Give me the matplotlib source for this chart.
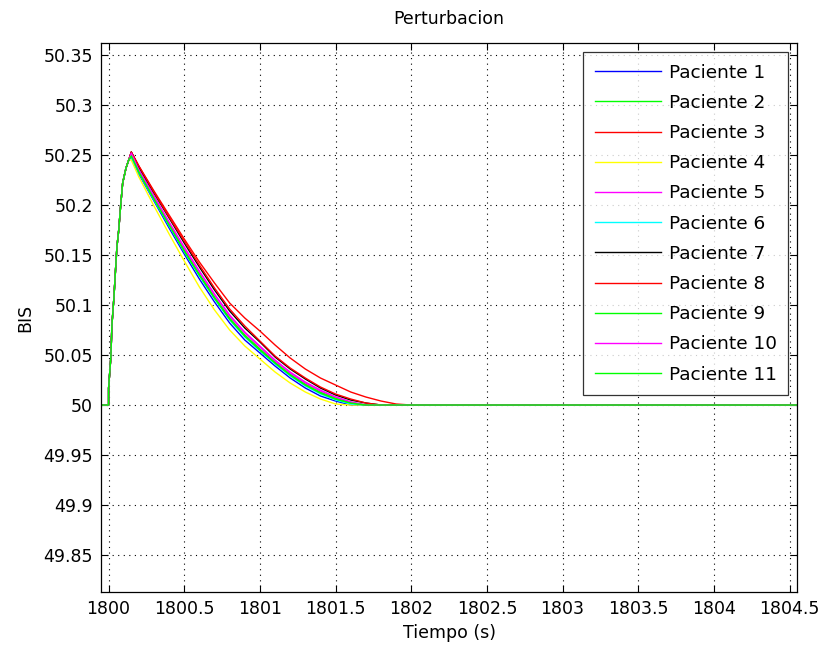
import numpy as np
import matplotlib
matplotlib.use('Agg')
import matplotlib.pyplot as plt
from matplotlib.ticker import FuncFormatter

plt.rcParams['font.family'] = ['DejaVu Sans']

# tramo de subida (comun a todos los pacientes)
t_rise = [1799.9, 1800.0, 1800.0, 1800.015, 1800.022, 1800.035, 1800.045, 1800.055,
          1800.067, 1800.08, 1800.093, 1800.115, 1800.133]
bis_rise = [50.0, 50.0, 50.017, 50.048, 50.08, 50.107, 50.133, 50.158,
            50.175, 50.2, 50.222, 50.237, 50.245]

# tramo de bajada
t_decay = [1800.15, 1800.2, 1800.3, 1800.4, 1800.5, 1800.6, 1800.7, 1800.8, 1800.9,
           1801.0, 1801.1, 1801.2, 1801.3, 1801.4, 1801.5, 1801.6, 1801.7, 1801.8,
           1801.9, 1802.0, 1804.7]

p1 = [50.248, 50.231, 50.204, 50.177, 50.151, 50.126, 50.103, 50.082, 50.065, 50.052,
      50.039, 50.027, 50.017, 50.009, 50.004, 50.0, 50.0, 50.0, 50.0, 50.0, 50.0]
p2 = [50.250, 50.234, 50.207, 50.181, 50.155, 50.131, 50.108, 50.087, 50.070, 50.056,
      50.043, 50.031, 50.021, 50.013, 50.007, 50.002, 50.0, 50.0, 50.0, 50.0, 50.0]
p3 = [50.253, 50.239, 50.214, 50.190, 50.166, 50.143, 50.122, 50.102, 50.087, 50.074,
      50.060, 50.047, 50.036, 50.027, 50.020, 50.013, 50.008, 50.004, 50.001, 50.0, 50.0]
p4 = [50.245, 50.228, 50.199, 50.171, 50.144, 50.118, 50.095, 50.075, 50.059, 50.046,
      50.033, 50.022, 50.013, 50.006, 50.001, 50.0, 50.0, 50.0, 50.0, 50.0, 50.0]
p5 = [50.252, 50.236, 50.209, 50.183, 50.158, 50.134, 50.111, 50.090, 50.073, 50.059,
      50.045, 50.033, 50.023, 50.015, 50.008, 50.003, 50.0, 50.0, 50.0, 50.0, 50.0]
p6 = [50.248, 50.232, 50.205, 50.179, 50.153, 50.129, 50.106, 50.085, 50.068, 50.054,
      50.041, 50.029, 50.019, 50.011, 50.005, 50.001, 50.0, 50.0, 50.0, 50.0, 50.0]
p7 = [50.253, 50.238, 50.212, 50.187, 50.162, 50.138, 50.115, 50.094, 50.077, 50.063,
      50.048, 50.036, 50.026, 50.017, 50.010, 50.005, 50.002, 50.0, 50.0, 50.0, 50.0]
p8 = [50.253, 50.239, 50.213, 50.188, 50.164, 50.140, 50.117, 50.096, 50.079, 50.064,
      50.049, 50.037, 50.027, 50.018, 50.011, 50.006, 50.002, 50.0, 50.0, 50.0, 50.0]
p9 = [50.250, 50.233, 50.206, 50.180, 50.154, 50.130, 50.107, 50.086, 50.069, 50.055,
      50.042, 50.030, 50.020, 50.012, 50.006, 50.002, 50.0, 50.0, 50.0, 50.0, 50.0]
p10 = [50.252, 50.235, 50.208, 50.182, 50.157, 50.133, 50.110, 50.089, 50.072, 50.058,
       50.044, 50.032, 50.022, 50.014, 50.008, 50.003, 50.0, 50.0, 50.0, 50.0, 50.0]
p11 = [50.249, 50.233, 50.206, 50.180, 50.154, 50.130, 50.107, 50.086, 50.069, 50.055,
       50.042, 50.030, 50.020, 50.012, 50.006, 50.002, 50.0, 50.0, 50.0, 50.0, 50.0]

pacientes = [p1, p2, p3, p4, p5, p6, p7, p8, p9, p10, p11]
nombres = ['Paciente %d' % (i + 1) for i in range(11)]
colores = ['#0000ff', '#00ff00', '#ff0000', '#ffff00', '#ff00ff', '#00ffff',
           '#000000', '#ff0000', '#00ff00', '#ff00ff', '#00ff00']

y_ticks = [49.85, 49.9, 49.95, 50.0, 50.05, 50.1, 50.15, 50.2, 50.25, 50.3, 50.35]
x_ticks = [1800, 1800.5, 1801, 1801.5, 1802, 1802.5, 1803, 1803.5, 1804, 1804.5]

fig = plt.figure(figsize=(8.2, 6.5), dpi=100)
ax = fig.add_axes([0.1232, 0.0892, 0.8490, 0.8446])

for bis, nom, col in zip(pacientes, nombres, colores):
    t = np.concatenate([t_rise, t_decay])
    y = np.concatenate([bis_rise, bis])
    ax.plot(t, y, color=col, lw=1.0, label=nom)

ax.set_xlim(1799.95, 1804.55)
ax.set_ylim(49.813, 50.362)
ax.set_xticks(x_ticks)
ax.set_yticks(y_ticks)
fmt = FuncFormatter(lambda v, p: '%g' % round(v, 4))
ax.xaxis.set_major_formatter(fmt)
ax.yaxis.set_major_formatter(fmt)
ax.tick_params(direction='in', length=5, width=0.8, top=True, right=True,
               labelsize=12.5, pad=6)
ax.grid(True, color='k', linestyle=(0, (1, 4)), linewidth=0.8)
for s in ax.spines.values():
    s.set_linewidth(0.9)

ax.set_title('Perturbacion', fontsize=12.5, pad=14)
ax.set_xlabel('Tiempo (s)', fontsize=12.5, labelpad=4)
ax.set_ylabel('BIS', fontsize=12.5, labelpad=6)

leg = ax.legend(loc='upper right', fontsize=13.3, frameon=True, fancybox=False,
                handlelength=3.6, handletextpad=0.4, labelspacing=0.66,
                borderaxespad=0.5, borderpad=0.62)
leg.get_frame().set_edgecolor('k')
leg.get_frame().set_linewidth(0.9)

fig.savefig('out.png', dpi=100)
